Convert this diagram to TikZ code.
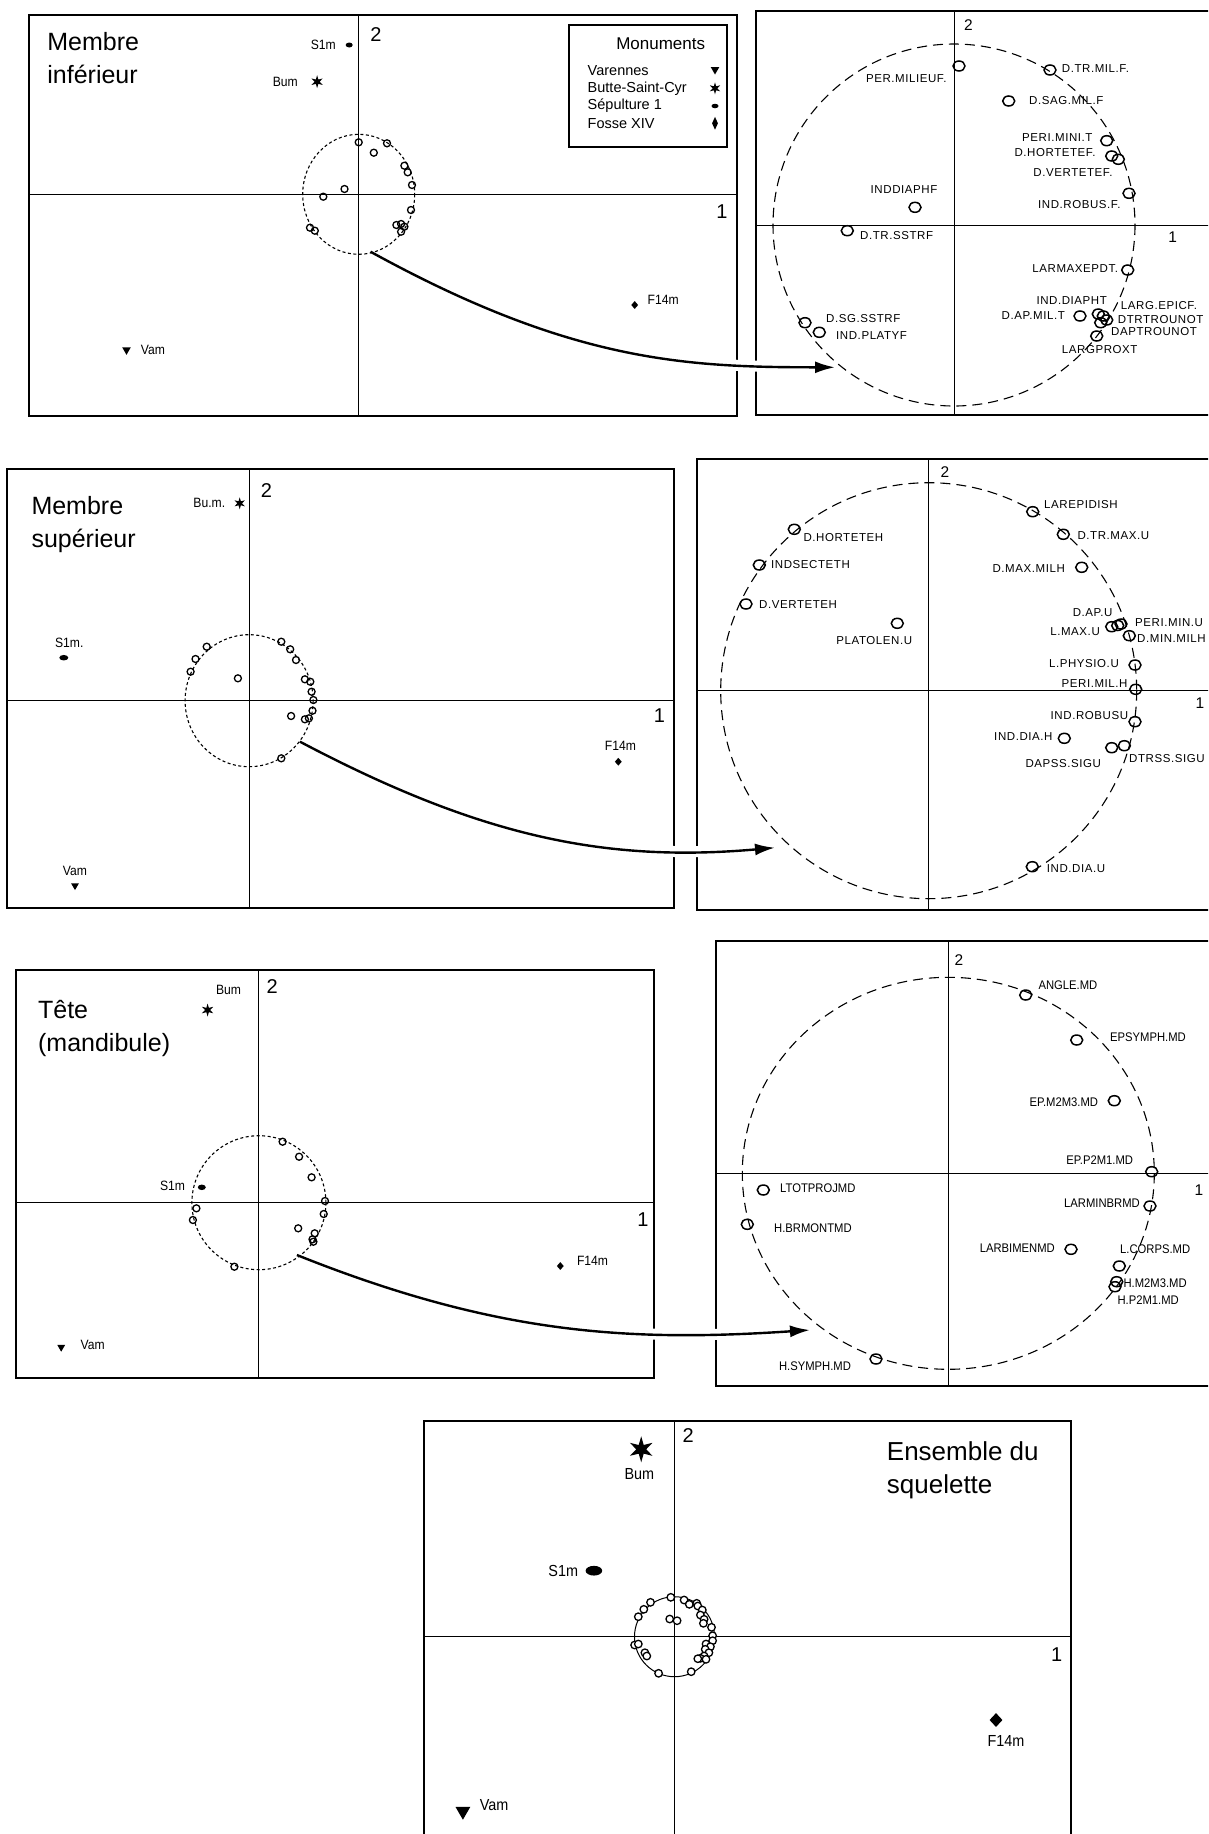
\documentclass[tikz,border=0pt]{standalone}
\usepackage{fontspec}
\setmainfont{Liberation Sans}
\newfontfamily\spfont[LetterSpace=5]{Liberation Sans}
\newfontfamily\nwfont[FakeStretch=0.9]{Liberation Sans}
\usetikzlibrary{arrows.meta,shapes.geometric}

\begin{document}
\begin{tikzpicture}[x=1pt,y=-1pt,
  box/.style={line width=2pt},
  ax/.style={line width=1pt},
  ttl/.style={inner sep=0,anchor=base west,font=\fontsize{25}{30}\selectfont},
  num/.style={inner sep=0,font=\fontsize{20}{24}\selectfont},
  numr/.style={inner sep=0,font=\fontsize{15.5}{18}\selectfont},
  lbl/.style={inner sep=0,font=\nwfont\fontsize{13.5}{16}\selectfont},
  lgd/.style={inner sep=0,anchor=west,font=\fontsize{14.5}{17}\selectfont},
  vlb/.style={inner sep=0,font=\spfont\fontsize{11.5}{14}\selectfont},
  mlb/.style={inner sep=0,font=\nwfont\fontsize{12.5}{15}\selectfont},
  mk/.style={circle,draw,line width=1.3pt,inner sep=0,minimum size=#1},
  mk/.default=7pt,
  vmk/.style={ellipse,draw,line width=1.5pt,inner sep=0,minimum width=12pt,minimum height=10pt},
  dsm/.style={dash pattern=on 3pt off 2.5pt,line width=1.1pt},
  dbg/.style={dash pattern=on 10pt off 6pt,line width=1.1pt},
  tri/.style={regular polygon,regular polygon sides=3,shape border rotate=180,fill,inner sep=0,minimum size=#1},
  sta/.style={star,star points=6,star point ratio=2.6,fill,inner sep=0,minimum size=#1},
  ovl/.style 2 args={ellipse,fill,inner sep=0,minimum width=#1,minimum height=#2},
  dmd/.style 2 args={diamond,fill,inner sep=0,minimum width=#1,minimum height=#2},
  arr/.style={-{Latex[length=20pt,width=12pt]},line width=2.4pt,preaction={draw=white,line width=11pt,-}}]
  \useasboundingbox (0,0) rectangle (1208,1834);
  \fill[white] (0,0) rectangle (1208,1834);
  \clip (0,0) rectangle (1208,1834);
  \coordinate (a0) at (358.7,194.3);
  \coordinate (b0) at (954,225);
  \coordinate (c0) at (249.1,700.7);
  \coordinate (d0) at (928.7,690.7);
  \coordinate (e0) at (258.9,1202.7);
  \coordinate (f0) at (948.3,1173.3);
  \coordinate (g0) at (674.5,1636.7);
  \draw[box] (29,15) rectangle (737,416);
  \draw[ax] (358.7,15) -- (358.7,416) (29,194.3) -- (737,194.3);
  \draw[box] (756,10.7) rectangle (1240,415);
  \draw[ax] (954,10.7) -- (954,415) (756,225) -- (1240,225);
  \draw[box] (6.7,469.3) rectangle (674,908.3);
  \draw[ax] (249.1,469.3) -- (249.1,908.3) (6.7,700.7) -- (674,700.7);
  \draw[box] (697.3,459.3) rectangle (1240,909.5);
  \draw[ax] (928.7,459.3) -- (928.7,909.5) (697.3,690.7) -- (1240,690.7);
  \draw[box] (15.6,970) rectangle (654,1378.3);
  \draw[ax] (258.9,970) -- (258.9,1378.3) (15.6,1202.7) -- (654,1202.7);
  \draw[box] (716,940.7) rectangle (1240,1386);
  \draw[ax] (948.3,940.7) -- (948.3,1386) (716,1173.3) -- (1240,1173.3);
  \draw[box] (424.1,1420.7) rectangle (1071,1860);
  \draw[ax] (674.5,1420.7) -- (674.5,1860) (424.1,1636.7) -- (1071,1636.7);
  \coordinate (as) at (370.5,251.7);
  \coordinate (ae) at (835,367.3);
  \coordinate (cs) at (300,741.7);
  \coordinate (ce) at (775,847.7);
  \coordinate (es) at (296.9,1255);
  \coordinate (ee) at (810,1330);
  \draw[arr] (as) .. controls +(200,110) and +(-150,0) .. (ae);
  \draw[arr] (cs) .. controls +(180,95) and +(-170,15) .. (ce);
  \draw[arr] (es) .. controls +(200,80) and +(-180,12) .. (ee);
  \draw[dsm] (a0) ellipse [x radius=56,y radius=60];
  \draw[dbg] (b0) circle [radius=181];
  \draw[dsm] (c0) ellipse [x radius=64,y radius=66];
  \draw[dbg] (d0) circle [radius=208];
  \draw[dsm] (e0) circle [radius=67];
  \draw[dbg] (f0) ellipse [x radius=206,y radius=196];
  \draw[line width=1pt] (g0) circle [radius=40];
  \node[ttl] (at1) at (47.2,50) {Membre};
  \node[ttl] (at2) at (47.2,83.3) {inférieur};
  \node[ttl] (ct1) at (31.3,514) {Membre};
  \node[ttl] (ct2) at (31.3,547.3) {supérieur};
  \node[ttl] (et1) at (37.9,1018.3) {Tête};
  \node[ttl] (et2) at (37.9,1051) {(mandibule)};
  \node[ttl,font=\fontsize{26}{30}\selectfont] (gt1) at (886.7,1460) {Ensemble du};
  \node[ttl,font=\fontsize{26}{30}\selectfont] (gt2) at (886.7,1493.3) {squelette};
  \node[num] (ay) at (376,35) {2};
  \node[num] (ax) at (722,211.7) {1};
  \node[numr] (by) at (968.3,25) {2};
  \node[numr] (bx) at (1172.7,237.3) {1};
  \node[num] (cy) at (266.5,490.7) {2};
  \node[num] (cx) at (659.4,716) {1};
  \node[numr] (dy) at (945,471.7) {2};
  \node[numr] (dx) at (1200,703) {1};
  \node[num] (ey) at (272.3,986.7) {2};
  \node[num] (ex) at (642.9,1220) {1};
  \node[numr] (fy) at (959,960) {2};
  \node[numr] (fx) at (1199,1190) {1};
  \node[num] (gy) at (688.2,1435) {2};
  \node[num] (gx) at (1056.7,1655) {1};
  \draw[box] (568.7,25) rectangle (726.8,146.7);
  \node[inner sep=0,font=\fontsize{17}{20}\selectfont] (lgt) at (660.7,43.3) {Monuments};
  \node[lgd] (lg1) at (587.5,70.7) {Varennes};
  \node[lgd] (lg2) at (587.5,88.3) {Butte-Saint-Cyr};
  \node[lgd] (lg3) at (587.5,106) {Sépulture 1};
  \node[lgd] (lg4) at (587.5,123.3) {Fosse XIV};
  \node[tri=10pt] (ls1) at (715,69.5) {};
  \node[sta=12pt] (ls2) at (715,88.3) {};
  \node[ovl={7pt}{4.5pt}] (ls3) at (715,106) {};
  \node[dmd={6pt}{13pt}] (ls4) at (715,123.3) {};
  \node[lbl,anchor=east] (as1) at (336,45) {S1m};
  \node[ovl={7pt}{5pt}] (am1) at (349.2,45) {};
  \node[lbl,anchor=east] (as2) at (298,81.7) {Bum};
  \node[sta=13pt] (am2) at (317.1,81.7) {};
  \node[tri=10pt] (am3) at (126.5,349.8) {};
  \node[lbl,anchor=west] (as3) at (140.6,350) {Vam};
  \node[dmd={7pt}{8pt}] (am4) at (634.7,305) {};
  \node[lbl,anchor=west] (as4) at (647.5,300) {F14m};
  \node[lbl,anchor=east] (cs1) at (225.4,503.3) {Bu.m.};
  \node[sta=12pt] (cm1) at (239.7,503.3) {};
  \node[lbl] (cs2) at (69.2,642.7) {S1m.};
  \node[ovl={9pt}{5.5pt}] (cm2) at (63.8,657.7) {};
  \node[lbl] (cs3) at (75,870.7) {Vam};
  \node[tri=9pt] (cm3) at (75,885.6) {};
  \node[lbl] (cs4) at (620.5,746) {F14m};
  \node[dmd={7pt}{8pt}] (cm4) at (618.3,761.7) {};
  \node[lbl] (es1) at (228.6,990) {Bum};
  \node[sta=13pt] (em1) at (207.6,1010) {};
  \node[lbl,anchor=east] (es2) at (185.3,1185.7) {S1m};
  \node[ovl={8pt}{5.5pt}] (em2) at (201.8,1187.3) {};
  \node[tri=9pt] (em3) at (61.2,1347.2) {};
  \node[lbl,anchor=west] (es3) at (80.4,1345) {Vam};
  \node[dmd={7pt}{8pt}] (em4) at (560.3,1266) {};
  \node[lbl,anchor=west] (es4) at (576.8,1260.7) {F14m};
  \node[sta=26pt] (gm1) at (641.2,1449.3) {};
  \node[lbl,font=\nwfont\fontsize{16}{19}\selectfont] (gs1) at (639.4,1474) {Bum};
  \node[lbl,anchor=east,font=\nwfont\fontsize{16}{19}\selectfont] (gs2) at (578.3,1570.7) {S1m};
  \node[ovl={16.6pt}{9.7pt}] (gm2) at (593.9,1570.7) {};
  \node[tri=17pt] (gm3) at (462.9,1811.2) {};
  \node[lbl,anchor=west,font=\nwfont\fontsize{16}{19}\selectfont] (gs3) at (479.6,1805) {Vam};
  \node[dmd={13pt}{14pt}] (gm4) at (996,1720) {};
  \node[lbl,font=\nwfont\fontsize{16}{19}\selectfont] (gs4) at (1006,1740.7) {F14m};
  \foreach \x/\y [count=\i] in {358.7/142.3,387/143.3,373.8/152.7,404.4/165.7,407.7/172.3,412/185,344.5/189,323.3/196.7,411/210,396.4/225,401.1/224,404.4/226.7,401.1/231.7,310/227.7,314.8/230.7}
    \node[mk] (a\i) at (\x,\y) {};
  \foreach \x/\y [count=\i] in {281.3/641.7,290.2/649.3,296/660,206.7/646.7,195.5/659,190.6/671.7,237.9/678.3,304.9/679.3,310.3/681.7,311.6/691.7,313.4/700,312.5/710.7,291.1/716,304.9/719.3,308.9/718.3,281.3/758.3}
    \node[mk] (c\i) at (\x,\y) {};
  \foreach \x/\y [count=\i] in {282.6/1141.7,299.1/1156.7,311.6/1177.3,325/1201,323.7/1214,196.4/1208.3,192.9/1220,298.2/1228.3,314.7/1233.3,312.5/1239.3,313.4/1241.7,234.4/1266.7}
    \node[mk] (e\i) at (\x,\y) {};
  \foreach \x/\y [count=\i] in {670.8/1597.3,650.5/1602.3,643.8/1609.3,638.3/1616.7,669.7/1619,677.1/1620.7,684.1/1600,689.3/1604.3,696.7/1603.3,697.8/1606,702.3/1610,700.4/1615,704.1/1619.3,703.4/1623.3,711.5/1627.3,712.6/1635.7,712.6/1640.7,706/1644,710.4/1646.7,705.2/1649.3,708.9/1652.7,704.1/1656,700.4/1658.3,706/1659.3,697.8/1658.7,691.2/1671.7,658.6/1673.3,634.6/1645,638.3/1644,644.9/1652.7,646.8/1656}
    \node[mk=7.5pt,fill=white] (g\i) at (\x,\y) {};
  \foreach \x/\y [count=\i] in {959/66,1050/70,1008.7/101,1106.7/140.7,1111.7/156,1118.3/159.3,1129/193.3,915/207.3,847.3/230.7,1127.7/270,1080/316,1098.3/314,1103.3/316,1106.7/320,1100.7/322.7,1096.7/336,805/322.7,819.3/332.3}
    \node[vmk] (b\i) at (\x,\y) {};
  \foreach \x/\y/\a/\t [count=\i] in {946.7/78.3/east/PER.MILIEUF.,1061.7/68.3/west/D.TR.MIL.F.,1029/100.7/west/D.SAG.MIL.F,1092.7/137.7/east/PERI.MINI.T,1095.7/152.3/east/D.HORTETEF.,1112.7/172.3/east/D.VERTETEF.,1120.7/205/east/IND.ROBUS.F.,904/190/center/INDDIAPHF,860/236/west/D.TR.SSTRF,1118.3/268.3/east/LARMAXEPDT.,1071.7/301/center/IND.DIAPHT,1065/316/east/D.AP.MIL.T,1120.7/305.7/west/LARG.EPICF.,1117.7/319.3/west/DTRTROUNOT,1111/331.7/west/DAPTROUNOT,1061.7/350/west/LARGPROXT,826/319/west/D.SG.SSTRF,836/335.7/west/IND.PLATYF}
    \node[vlb,anchor=\a] (bl\i) at (\x,\y) {\t};
  \foreach \x/\y [count=\i] in {1032.7/511.7,1063.3/534.3,1081.7/567.3,794.3/529.3,759.3/565,746/604,897.3/623.3,1111.7/626.7,1117.7/625.5,1121/624,1129.3/635.7,1135/665,1135.7/689.3,1135/721.7,1064.3/738.3,1111.7/747.7,1124.3/745.7,1032.3/866.7}
    \node[vmk] (d\i) at (\x,\y) {};
  \foreach \x/\y/\a/\t [count=\i] in {1044/505/west/LAREPIDISH,1077.3/535.7/west/D.TR.MAX.U,1065/568.3/east/D.MAX.MILH,803.3/537.3/west/D.HORTETEH,771/565/west/INDSECTETH,759/605/west/D.VERTETEH,874.3/641/center/PLATOLEN.U,1112.7/612.7/east/D.AP.U,1100/631.7/east/L.MAX.U,1135/622.3/west/PERI.MIN.U,1137/638.3/west/D.MIN.MILH,1119/663.3/east/L.PHYSIO.U,1127.7/683.3/east/PERI.MIL.H,1128.3/716/east/IND.ROBUSU,1052.7/736.7/east/IND.DIA.H,1063.3/763.3/center/DAPSS.SIGU,1129/758.3/west/DTRSS.SIGU,1046.7/868.3/west/IND.DIA.U}
    \node[vlb,anchor=\a,font=\spfont\fontsize{11.5}{14}\selectfont] (dl\i) at (\x,\y) {\t};
  \foreach \x/\y [count=\i] in {1025.7/995,1076.7/1040,1114.3/1100.7,1151.7/1171.7,1150/1206,763.3/1190,747.3/1224.3,1071/1249.3,1119.3/1266,1116.7/1281.7,1115/1286.7,876/1359}
    \node[vmk] (f\i) at (\x,\y) {};
  \foreach \x/\y/\a/\t [count=\i] in {1038.3/985/west/ANGLE.MD,1110/1036.7/west/EPSYMPH.MD,1098.3/1101.7/east/EP.M2M3.MD,1133.3/1160/east/EP.P2M1.MD,1140/1203.3/east/LARMINBRMD,780/1187.7/west/LTOTPROJMD,774/1228.3/west/H.BRMONTMD,1055/1247.7/east/LARBIMENMD,1120/1249/west/L.CORPS.MD,1123.3/1283.3/west/H.M2M3.MD,1117.3/1300/west/H.P2M1.MD,815/1365.7/center/H.SYMPH.MD}
    \node[mlb,anchor=\a] (fl\i) at (\x,\y) {\t};
\end{tikzpicture}
\end{document}
